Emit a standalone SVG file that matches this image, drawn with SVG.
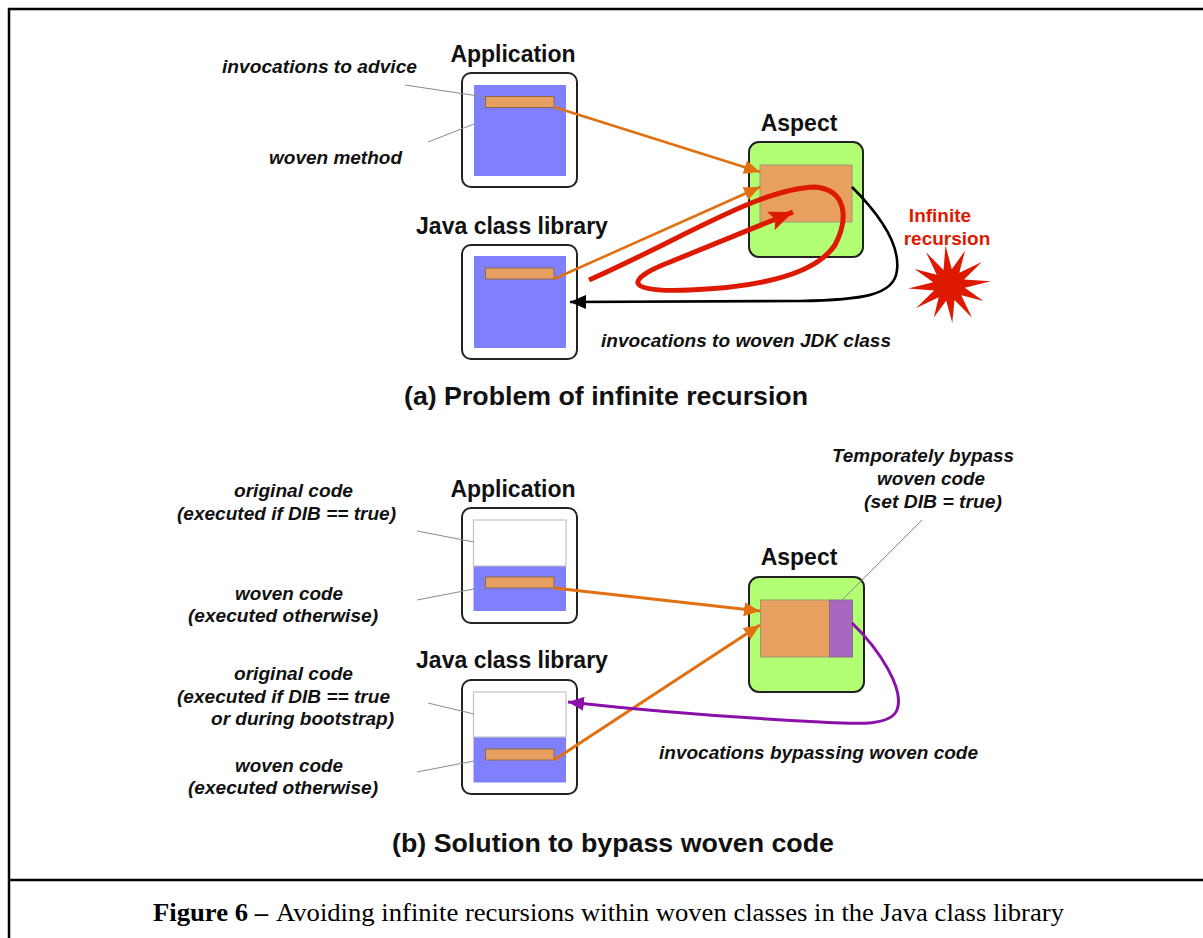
<svg xmlns="http://www.w3.org/2000/svg" width="1203" height="938" viewBox="0 0 1203 938">
  <style>
    .frame { fill: none; stroke: #000; stroke-width: 2.5; }
    .box { fill: #fff; stroke: #222; stroke-width: 2; }
    .aspect { fill: #b2ff74; stroke: #222; stroke-width: 2; }
    .woven { fill: #8080ff; stroke: none; }
    .orig { fill: #fff; stroke: #c4c4c4; stroke-width: 1.2; }
    .bar { fill: #e8a060; stroke: #8a6a48; stroke-width: 1; }
    .advice { fill: #e8a060; stroke: #9a9a70; stroke-width: 1; }
    .bypass { fill: #a868c0; stroke: #8a6a88; stroke-width: 1; }
    .leader { fill: none; stroke: #8a8a8a; stroke-width: 1; }
    .call { fill: none; stroke: #e07010; stroke-width: 2.6; }
    .ret { fill: none; stroke: #000; stroke-width: 2.6; }
    .skip { fill: none; stroke: #8a10a8; stroke-width: 3; }
    .loop { fill: none; stroke: #dd1a00; stroke-width: 5; stroke-linejoin: round; }
    .title { font-family: "Liberation Sans", Arial, sans-serif; font-weight: bold; font-size: 23px; fill: #111; text-anchor: middle; }
    .label { font-family: "Liberation Sans", Arial, sans-serif; font-weight: bold; font-style: italic; font-size: 18px; fill: #111; }
    .heading { font-family: "Liberation Sans", Arial, sans-serif; font-weight: bold; font-size: 26px; fill: #111; }
    .alert { font-family: "Liberation Sans", Arial, sans-serif; font-weight: bold; font-size: 19px; fill: #dd1a00; text-anchor: middle; }
    .caption { font-family: "Liberation Serif", "Times New Roman", serif; font-size: 25px; fill: #000; }
  </style>
  <defs>
    <marker id="head-orange" markerUnits="userSpaceOnUse" markerWidth="18" markerHeight="14" refX="16" refY="7" orient="auto">
      <path d="M0,0 L16,7 L0,14 Z" fill="#e07010"/>
    </marker>
    <marker id="head-black" markerUnits="userSpaceOnUse" markerWidth="18" markerHeight="14" refX="16" refY="7" orient="auto">
      <path d="M0,0 L16,7 L0,14 Z" fill="#000"/>
    </marker>
    <marker id="head-purple" markerUnits="userSpaceOnUse" markerWidth="18" markerHeight="14" refX="16" refY="7" orient="auto">
      <path d="M0,0 L16,7 L0,14 Z" fill="#8a10a8"/>
    </marker>
    <marker id="head-red" markerUnits="userSpaceOnUse" markerWidth="26" markerHeight="20" refX="24" refY="10" orient="auto">
      <path d="M0,0 L24,10 L0,20 L5,10 Z" fill="#dd1a00"/>
    </marker>
  </defs>

  <!-- page frame and caption divider -->
  <g id="frame">
    <path class="frame" d="M9,938 L9,9 L1203,9"/>
    <path class="frame" d="M9,880 L1203,880"/>
  </g>

  <!-- (a) problem of infinite recursion -->
  <g id="a-application">
    <text class="title" x="513" y="62">Application</text>
    <rect class="box" x="462" y="73" width="115" height="114" rx="9"/>
    <rect class="woven" x="474" y="85" width="92" height="91"/>
    <rect class="bar" x="485.5" y="96.5" width="68.5" height="11"/>
  </g>
  <g id="a-jcl">
    <text class="title" x="512" y="234">Java class library</text>
    <rect class="box" x="462" y="245" width="115" height="114" rx="9"/>
    <rect class="woven" x="474" y="256" width="92" height="92"/>
    <rect class="bar" x="485.5" y="268" width="68.5" height="11"/>
  </g>
  <g id="a-aspect">
    <text class="title" x="799" y="131">Aspect</text>
    <rect class="aspect" x="749" y="142" width="114" height="115" rx="10"/>
    <rect class="advice" x="760" y="165" width="92" height="57"/>
  </g>
  <g id="a-recursion">
    <text class="alert" x="940" y="222">Infinite</text>
    <text class="alert" x="947" y="245">recursion</text>
    <polygon fill="#dd1a00" points="945.5,245.2 951.8,269.2 965.1,250.6 959.3,272.7 981.8,262 964,279.5 990.8,281.3 964.8,287.8 983.4,301.1 961.3,295.3 972,317.8 954.5,300 952.3,322.8 946.2,300.8 933.8,317.6 938.7,297.3 916.2,308 934,290.5 908.2,288.6 933.2,282.2 914.6,268.9 936.7,274.7 926,252.2 943.5,270"/>
  </g>
  <g id="a-labels">
    <text class="label" x="222" y="73" textLength="195" lengthAdjust="spacingAndGlyphs">invocations to advice</text>
    <text class="label" x="269" y="164" textLength="133" lengthAdjust="spacingAndGlyphs">woven method</text>
    <text class="label" x="601" y="347" textLength="290" lengthAdjust="spacingAndGlyphs">invocations to woven JDK class</text>
    <text class="heading" x="404" y="405" textLength="404" lengthAdjust="spacingAndGlyphs">(a) Problem of infinite recursion</text>
  </g>

  <!-- (b) solution to bypass woven code -->
  <g id="b-application">
    <text class="title" x="513" y="497">Application</text>
    <rect class="box" x="462" y="508" width="115" height="115" rx="9"/>
    <rect class="woven" x="473.5" y="566" width="92.5" height="45"/>
    <rect class="orig" x="473.5" y="520" width="92.5" height="46"/>
    <rect class="bar" x="485.5" y="577" width="68.5" height="11"/>
  </g>
  <g id="b-jcl">
    <text class="title" x="512" y="668">Java class library</text>
    <rect class="box" x="462" y="680" width="115" height="114" rx="9"/>
    <rect class="woven" x="473.5" y="737" width="92.5" height="45.5"/>
    <rect class="orig" x="473.5" y="692" width="92.5" height="45"/>
    <rect class="bar" x="485.5" y="749" width="68.5" height="11"/>
  </g>
  <g id="b-aspect">
    <text class="title" x="799" y="565">Aspect</text>
    <rect class="aspect" x="749" y="577" width="115" height="115" rx="10"/>
    <rect class="advice" x="760.5" y="600" width="69" height="57"/>
    <rect class="bypass" x="829.5" y="600" width="23" height="57"/>
  </g>
  <g id="b-labels">
    <text class="label" x="234" y="497" textLength="119" lengthAdjust="spacingAndGlyphs">original code</text>
    <text class="label" x="177" y="520" textLength="219" lengthAdjust="spacingAndGlyphs">(executed if DIB == true)</text>
    <text class="label" x="235" y="600" textLength="108" lengthAdjust="spacingAndGlyphs">woven code</text>
    <text class="label" x="188" y="622" textLength="190" lengthAdjust="spacingAndGlyphs">(executed otherwise)</text>
    <text class="label" x="234" y="680" textLength="119" lengthAdjust="spacingAndGlyphs">original code</text>
    <text class="label" x="177" y="703" textLength="213" lengthAdjust="spacingAndGlyphs">(executed if DIB == true</text>
    <text class="label" x="211" y="725" textLength="183" lengthAdjust="spacingAndGlyphs">or during bootstrap)</text>
    <text class="label" x="235" y="772" textLength="108" lengthAdjust="spacingAndGlyphs">woven code</text>
    <text class="label" x="188" y="794" textLength="190" lengthAdjust="spacingAndGlyphs">(executed otherwise)</text>
    <text class="label" x="832" y="462" textLength="182" lengthAdjust="spacingAndGlyphs">Temporately bypass</text>
    <text class="label" x="877" y="485" textLength="108" lengthAdjust="spacingAndGlyphs">woven code</text>
    <text class="label" x="864" y="508" textLength="138" lengthAdjust="spacingAndGlyphs">(set DIB = true)</text>
    <text class="label" x="659" y="759" textLength="319" lengthAdjust="spacingAndGlyphs">invocations bypassing woven code</text>
    <text class="heading" x="392" y="852" textLength="442" lengthAdjust="spacingAndGlyphs">(b) Solution to bypass woven code</text>
  </g>

  <!-- connectors: callouts, calls into the aspect, returns -->
  <g id="connectors">
    <path class="leader" d="M405,85 L485,97"/>
    <path class="leader" d="M428,142 L474,124"/>
    <path class="leader" d="M417,531 L474,542"/>
    <path class="leader" d="M417,600 L474,589"/>
    <path class="leader" d="M428,703 L474,714"/>
    <path class="leader" d="M417,772 L474,761"/>
    <path class="leader" d="M922,520 L842,600"/>

    <path class="call" d="M554,107 L760,172" marker-end="url(#head-orange)"/>
    <path class="call" d="M554,279 L760,187" marker-end="url(#head-orange)"/>
    <path class="loop" d="M589,280 C680,240 760,188 815,187 C848,190 848,220 835,245 C815,275 760,287 690,290 C620,293 628,278 670,262 L793,212" marker-end="url(#head-red)"/>
    <path class="ret" d="M852,187 C880,215 900,245 897,270 C895,296 860,300 800,301 L570,302" marker-end="url(#head-black)"/>

    <path class="call" style="stroke-width:3" d="M554,588 L760,611" marker-end="url(#head-orange)"/>
    <path class="call" style="stroke-width:3" d="M554,760 L760,625" marker-end="url(#head-orange)"/>
    <path class="skip" d="M852,623 C880,650 905,690 897,710 C890,726 860,724 820,722 C740,718 640,710 568,702" marker-end="url(#head-purple)"/>
  </g>

  <!-- figure caption -->
  <g id="caption">
    <text class="caption" x="153" y="921" font-weight="bold" textLength="115" lengthAdjust="spacingAndGlyphs">Figure 6 –</text>
    <text class="caption" x="276" y="921" textLength="788" lengthAdjust="spacingAndGlyphs">Avoiding infinite recursions within woven classes in the Java class library</text>
  </g>
</svg>
